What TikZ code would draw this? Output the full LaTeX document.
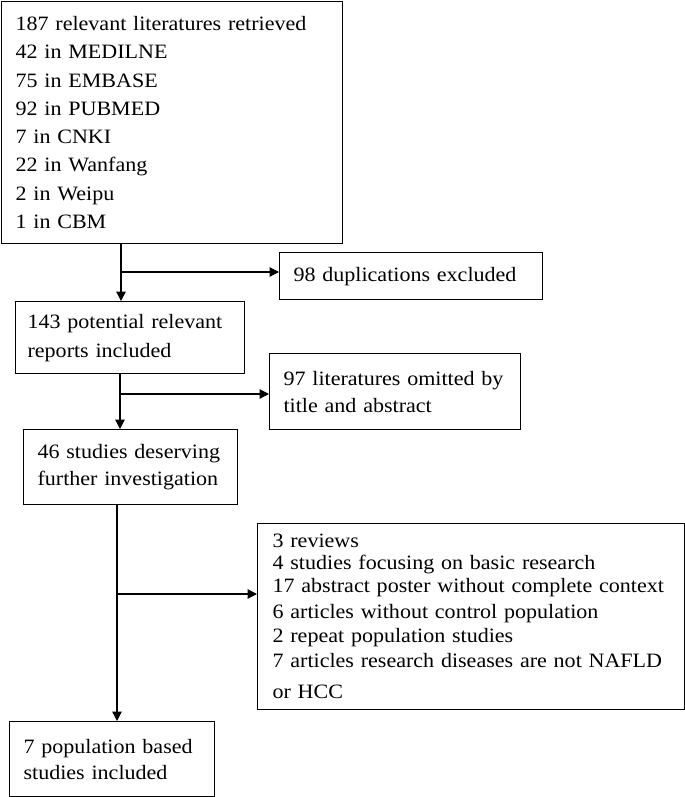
\documentclass[tikz,border=0pt]{standalone}
\usepackage{fontspec}
\setmainfont{Liberation Serif}[FakeStretch=1.08]
\usetikzlibrary{arrows.meta}
\tikzset{
  x=0.75pt, y=-0.75pt,
  box/.style={draw=black, line width=0.9pt, anchor=north west, inner ysep=0pt, align=left, font=\fontsize{15.3pt}{21.2pt}\selectfont},
  conn/.style={line width=0.9pt, draw=black},
  arr/.style={conn, -{Triangle[length=7pt,width=7pt]}},
}
\begin{document}
\begin{tikzpicture}
\useasboundingbox (0,0) rectangle (685,797);
% boxes
\node[box, inner xsep=10.5pt, text width=234.75pt, minimum height=181.5pt] (b1) at (1,1)
  {187 relevant literatures retrieved\\42 in MEDILNE\\75 in EMBASE\\92 in PUBMED\\7 in CNKI\\22 in Wanfang\\2 in Weipu\\1 in CBM};
\node[box, inner xsep=10.5pt, text width=176.25pt, minimum height=35.25pt] (dup) at (279,252)
  {98 duplications excluded};
\node[box, inner xsep=9pt, text width=153.75pt, minimum height=54pt, font=\fontsize{15.3pt}{21.75pt}\selectfont] (b2) at (15,301)
  {\makebox[150.75pt][s]{143 potential relevant}\\reports included};
\node[box, inner xsep=10.5pt, text width=167.25pt, minimum height=57pt, font=\fontsize{15.3pt}{20.25pt}\selectfont] (om) at (269,353)
  {\makebox[166.5pt][s]{97 literatures omitted by}\\title and abstract};
\node[box, inner xsep=10.5pt, text width=139.5pt, minimum height=56.25pt, font=\fontsize{15.3pt}{20.25pt}\selectfont] (b3) at (23,429)
  {\makebox[138.75pt][s]{46 studies deserving}\\further investigation};
\node[box, inner xsep=11.25pt, text width=297.75pt, minimum height=139.5pt, font=\fontsize{15.3pt}{16.5pt}\selectfont] (ex) at (257,523)
  {3 reviews\\4 studies focusing on basic research\\[0.75pt]17 abstract poster without complete context\\[3pt]6 articles without control population\\[1.5pt]2 repeat population studies\\[2.25pt]\makebox[297pt][s]{7 articles research diseases are not NAFLD}\\[6.75pt]or HCC};
\node[box, inner xsep=10.5pt, text width=132.75pt, minimum height=56.25pt, font=\fontsize{15.3pt}{19.5pt}\selectfont] (b5) at (9,721)
  {\makebox[132pt][s]{7 population based}\\studies included};
% junctions
\coordinate (j1) at (121,272);
\coordinate (j2) at (120,394);
\coordinate (j3) at (117,594);
% connectors
\draw[arr] (j1 |- b1.south) -- (j1 |- b2.north);
\draw[arr] (j1) -- (j1 -| dup.west);
\draw[arr] (j2 |- b2.south) -- (j2 |- b3.north);
\draw[arr] (j2) -- (j2 -| om.west);
\draw[arr] (j3 |- b3.south) -- (j3 |- b5.north);
\draw[arr] (j3) -- (j3 -| ex.west);
\end{tikzpicture}
\end{document}
